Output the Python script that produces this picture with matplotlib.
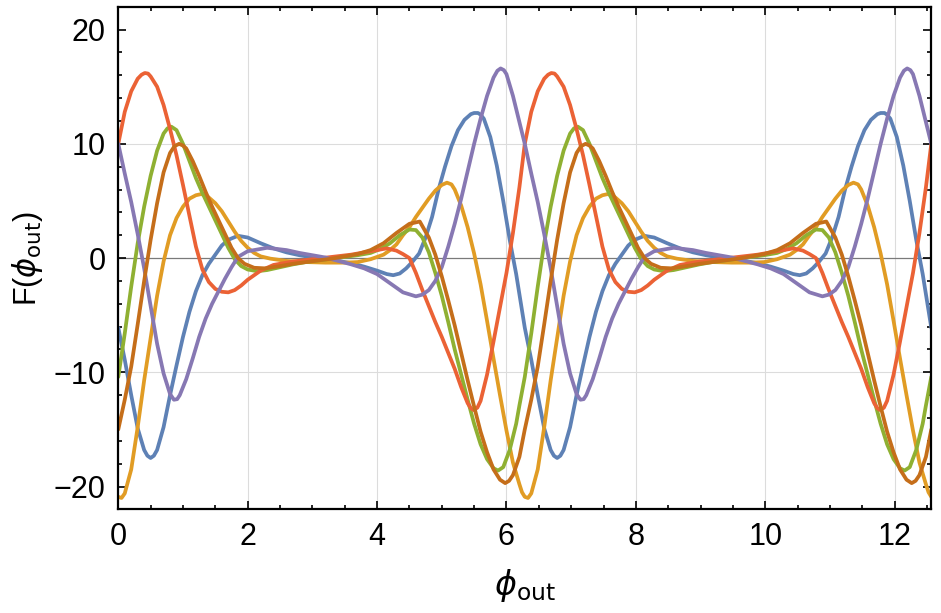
import numpy as np
import matplotlib
matplotlib.use("Agg")
import matplotlib.pyplot as plt
from matplotlib.ticker import MultipleLocator

# one period (0 .. 2*pi) of each curve
period = 2 * np.pi

blue_x = [0.0, 0.1, 0.2, 0.3, 0.4, 0.45, 0.5, 0.55, 0.6, 0.7, 0.8, 0.9, 1.0, 1.1, 1.2, 1.3, 1.4, 1.5,
          1.6, 1.7, 1.85, 2.0, 2.2, 2.4, 2.6, 2.8, 3.0, 3.2, 3.4, 3.6, 3.8, 4.0, 4.15, 4.25, 4.35,
          4.45, 4.55, 4.65, 4.75, 4.85, 4.95, 5.05, 5.15, 5.25, 5.35, 5.45, 5.5, 5.56, 5.6, 5.65,
          5.75, 5.85, 5.95, 6.05, 6.15, 6.283]
blue_y = [-6.1, -8.9, -12.0, -14.9, -16.8, -17.3, -17.5, -17.3, -16.8, -14.8, -12.0, -9.4, -6.9,
          -4.7, -2.9, -1.5, -0.5, 0.3, 1.1, 1.6, 1.95, 1.8, 1.3, 0.85, 0.5, 0.25, 0.05, -0.1, -0.25,
          -0.45, -0.75, -1.1, -1.4, -1.5, -1.35, -0.9, -0.3, 0.4, 1.8, 3.6, 6.0, 8.0, 9.8, 11.2,
          12.1, 12.6, 12.7, 12.7, 12.55, 12.2, 10.6, 8.1, 5.0, 1.6, -1.4, -6.1]

yellow_x = [0.0, 0.05, 0.1, 0.2, 0.3, 0.4, 0.5, 0.6, 0.7, 0.8, 0.9, 1.0, 1.1, 1.2, 1.28, 1.35, 1.4,
            1.5, 1.6, 1.7, 1.8, 1.9, 2.0, 2.1, 2.2, 2.35, 2.6, 2.9, 3.2, 3.5, 3.7, 3.9, 4.0, 4.1,
            4.2, 4.3, 4.4, 4.5, 4.6, 4.7, 4.8, 4.9, 5.0, 5.08, 5.15, 5.2, 5.3, 5.4, 5.5, 5.6, 5.7,
            5.8, 5.9, 6.0, 6.1, 6.2, 6.24, 6.283]
yellow_y = [-20.9, -21.0, -20.6, -18.5, -14.8, -10.7, -7.0, -3.3, -0.3, 2.0, 3.5, 4.5, 5.2, 5.5, 5.6,
            5.5, 5.3, 4.8, 4.1, 3.2, 2.3, 1.5, 0.9, 0.45, 0.15, -0.05, -0.25, -0.35, -0.4, -0.4,
            -0.35, -0.1, 0.1, 0.3, 0.7, 1.2, 2.0, 2.7, 3.6, 4.4, 5.2, 5.9, 6.4, 6.6, 6.45, 6.0, 4.6,
            2.7, 0.4, -2.3, -5.5, -8.8, -12.0, -15.1, -17.9, -19.8, -20.5, -20.9]

green_x = [0.0, 0.1, 0.2, 0.3, 0.4, 0.5, 0.6, 0.7, 0.76, 0.82, 0.9, 1.0, 1.1, 1.2, 1.3, 1.4, 1.5,
           1.6, 1.7, 1.8, 1.9, 2.0, 2.15, 2.3, 2.5, 2.7, 2.9, 3.1, 3.3, 3.5, 3.7, 3.9, 4.05, 4.2,
           4.35, 4.5, 4.6, 4.7, 4.8, 4.9, 5.0, 5.1, 5.2, 5.3, 5.4, 5.5, 5.6, 5.7, 5.8, 5.87, 5.95,
           6.05, 6.15, 6.2, 6.283]
green_y = [-10.4, -6.6, -2.5, 1.3, 4.5, 7.2, 9.4, 10.9, 11.35, 11.5, 11.2, 10.0, 8.5, 7.0, 5.7, 4.5,
           3.3, 2.1, 0.9, -0.1, -0.7, -1.0, -1.15, -1.05, -0.8, -0.55, -0.35, -0.2, -0.05, 0.1,
           0.25, 0.45, 0.8, 1.3, 2.0, 2.5, 2.45, 1.8, 0.5, -1.3, -3.3, -5.6, -8.0, -10.2, -12.4,
           -14.5, -16.3, -17.6, -18.4, -18.6, -18.3, -16.8, -14.5, -12.9, -10.4]

red_x = [0.0, 0.1, 0.2, 0.3, 0.36, 0.41, 0.46, 0.5, 0.6, 0.7, 0.8, 0.9, 1.0, 1.1, 1.2, 1.3, 1.4, 1.5,
         1.6, 1.7, 1.8, 1.9, 2.0, 2.2, 2.4, 2.7, 3.0, 3.3, 3.6, 3.9, 4.15, 4.3, 4.4, 4.5, 4.6, 4.7,
         4.8, 4.9, 5.0, 5.1, 5.2, 5.3, 5.4, 5.45, 5.49, 5.55, 5.6, 5.7, 5.8, 5.9, 6.0, 6.1, 6.2,
         6.283]
red_y = [10.0, 12.8, 14.6, 15.7, 16.05, 16.2, 16.15, 15.9, 15.0, 13.4, 11.3, 9.0, 6.4, 3.7, 1.0,
         -1.0, -2.1, -2.7, -2.95, -3.0, -2.8, -2.4, -1.9, -1.1, -0.6, -0.3, -0.1, 0.1, 0.3, 0.6,
         0.85, 0.65, 0.35, 0.0, -1.3, -2.8, -4.2, -5.6, -6.9, -8.3, -9.7, -11.3, -12.7, -13.15,
         -13.3, -13.1, -12.5, -10.2, -7.3, -4.3, -1.3, 2.2, 6.2, 10.0]

purple_x = [0.0, 0.1, 0.2, 0.3, 0.4, 0.5, 0.6, 0.7, 0.8, 0.86, 0.91, 0.95, 1.05, 1.15, 1.25, 1.35,
            1.45, 1.55, 1.65, 1.75, 1.85, 2.0, 2.3, 2.6, 2.8, 3.0, 3.2, 3.4, 3.6, 3.8, 4.0, 4.2, 4.4,
            4.6, 4.7, 4.8, 4.9, 5.0, 5.1, 5.2, 5.3, 5.4, 5.5, 5.6, 5.7, 5.8, 5.86, 5.91, 5.96, 6.0,
            6.1, 6.2, 6.283]
purple_y = [10.0, 7.4, 4.9, 2.1, -0.9, -4.2, -7.5, -10.1, -11.9, -12.4, -12.35, -12.0, -10.6, -8.8,
            -6.9, -5.3, -4.0, -2.9, -1.8, -0.8, 0.1, 0.6, 0.9, 0.7, 0.45, 0.25, 0.05, -0.25, -0.55,
            -0.9, -1.4, -2.2, -3.0, -3.35, -3.2, -2.8, -2.0, -0.8, 1.0, 3.0, 5.2, 7.6, 10.0, 12.2,
            14.2, 15.8, 16.4, 16.6, 16.45, 16.1, 14.2, 11.9, 10.0]

brown_x = [0.0, 0.1, 0.2, 0.3, 0.4, 0.5, 0.6, 0.7, 0.8, 0.87, 0.94, 1.0, 1.05, 1.15, 1.25, 1.35,
           1.45, 1.55, 1.65, 1.75, 1.85, 1.95, 2.1, 2.27, 2.5, 2.7, 2.9, 3.1, 3.3, 3.5, 3.7, 3.9,
           4.1, 4.3, 4.5, 4.66, 4.8, 4.9, 5.0, 5.1, 5.2, 5.3, 5.4, 5.5, 5.6, 5.7, 5.8, 5.9, 5.98,
           6.04, 6.1, 6.2, 6.283]
brown_y = [-15.0, -12.4, -9.5, -5.8, -2.0, 1.6, 4.8, 7.5, 9.2, 9.8, 10.0, 9.85, 9.6, 8.5, 7.2, 5.8,
           4.5, 3.3, 2.1, 0.9, 0.0, -0.5, -0.85, -0.9, -0.7, -0.5, -0.35, -0.2, -0.05, 0.15, 0.35,
           0.7, 1.3, 2.2, 3.0, 3.2, 1.8, 0.3, -1.6, -3.7, -5.9, -8.3, -10.7, -13.0, -15.2, -17.0,
           -18.5, -19.4, -19.7, -19.5, -19.0, -17.4, -15.0]

series = [
    (blue_x, blue_y, "#5E81B5"),
    (yellow_x, yellow_y, "#E19C24"),
    (green_x, green_y, "#8FB032"),
    (red_x, red_y, "#EB6235"),
    (purple_x, purple_y, "#8778B3"),
    (brown_x, brown_y, "#C56E1A"),
]


def two_periods(xs, ys):
    xs = np.asarray(xs)
    ys = np.asarray(ys)
    return np.concatenate([xs, xs[1:] + period]), np.concatenate([ys, ys[1:]])


plt.rcParams['font.family'] = ['Liberation Sans', 'DejaVu Sans']
plt.rcParams['mathtext.fontset'] = 'dejavusans'

fig = plt.figure(figsize=(9.41, 6.13), dpi=100)
ax = fig.add_axes([0.1257, 0.169, 0.864, 0.820])

# grid / axis line
for gx in [2, 4, 6, 8, 10, 12]:
    ax.axvline(gx, color='#dcdcdc', lw=0.8, zorder=0)
for gy in [-10, 10]:
    ax.axhline(gy, color='#dcdcdc', lw=0.8, zorder=0)
ax.axhline(0, color='#7a7a7a', lw=0.9, zorder=1)

for xs, ys, col in series:
    x2, y2 = two_periods(xs, ys)
    ax.plot(x2, y2, color=col, lw=2.7, solid_joinstyle='round', solid_capstyle='round', zorder=2)

ax.set_xlim(0, 2 * period)
ax.set_ylim(-22, 22)

ax.xaxis.set_major_locator(MultipleLocator(2))
ax.xaxis.set_minor_locator(MultipleLocator(0.5))
ax.yaxis.set_major_locator(MultipleLocator(10))
ax.yaxis.set_minor_locator(MultipleLocator(2))
ax.tick_params(which='both', direction='in', top=True, right=True, labelsize=22, width=1.2,
               colors='black', pad=9)
ax.tick_params(which='major', length=6)
ax.tick_params(which='minor', length=3)
for sp in ax.spines.values():
    sp.set_linewidth(1.6)

ax.set_xlabel(r'$\phi_{\mathrm{out}}$', fontsize=24)
ax.set_ylabel(r'F($\phi_{\mathrm{out}}$)', fontsize=22)
ax.xaxis.set_label_coords(0.5, -0.115)
ax.yaxis.set_label_coords(-0.09, 0.5)

fig.savefig('out.png', dpi=100)
